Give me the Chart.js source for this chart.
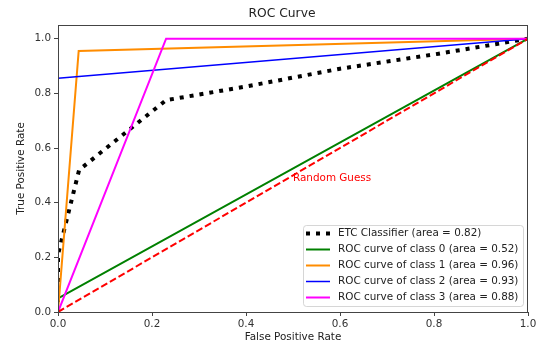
<!DOCTYPE html>
<html>
<head>
<meta charset="utf-8">
<script src="https://cdn.jsdelivr.net/npm/chart.js@4/dist/chart.umd.min.js"></script>
<style>
  html, body { margin: 0; padding: 0; background: #fff; }
  #wrap { width: 544px; height: 350px; }
</style>
</head>
<body>
<div id="wrap"><canvas id="roc"></canvas></div>
<script>
// curve values
const etcFpr = [0, 0, 0.045, 0.23, 0.4, 0.6, 0.81, 1]
const etcTpr = [0, 0.21, 0.52, 0.775, 0.825, 0.89, 0.945, 1]
const class0Fpr = [0, 0, 1]
const class0Tpr = [0, 0.05, 1]
const class1Fpr = [0, 0.044, 1]
const class1Tpr = [0, 0.955, 1]
const class2Fpr = [0, 0, 1]
const class2Tpr = [0, 0.855, 1]
const class3Fpr = [0, 0.23, 1]
const class3Tpr = [0, 1, 1]
const guessFpr = [0, 1]
const guessTpr = [0, 1]
const labels = [
  'ETC Classifier (area = 0.82)',
  'ROC curve of class 0 (area = 0.52)',
  'ROC curve of class 1 (area = 0.96)',
  'ROC curve of class 2 (area = 0.93)',
  'ROC curve of class 3 (area = 0.88)'
]
const xTicks = [0, 0.2, 0.4, 0.6, 0.8, 1.0]
const yTicks = [0, 0.2, 0.4, 0.6, 0.8, 1.0]

const FONT = 'DejaVu Sans'
const pts = (xs, ys) => xs.map((x, i) => ({x: x, y: ys[i]}))

// title, frame, legend box and the "Random Guess" note
const extras = {
  id: 'extras',
  afterDatasetsDraw(chart) {
    const ctx = chart.ctx
    const a = chart.chartArea
    const xs = chart.scales.x, ys = chart.scales.y
    ctx.save()
    ctx.fillStyle = 'red'
    ctx.font = '10.4px "' + FONT + '"'
    ctx.textAlign = 'left'
    ctx.textBaseline = 'middle'
    ctx.fillText('Random Guess', xs.getPixelForValue(0.5), ys.getPixelForValue(0.49))

    // frame
    ctx.strokeStyle = '#444'
    ctx.lineWidth = 1
    ctx.strokeRect(a.left + 0.5, a.top + 0.5, a.right - a.left - 1, a.bottom - a.top)

    // title
    ctx.fillStyle = '#222'
    ctx.font = '12.3px "' + FONT + '"'
    ctx.textAlign = 'center'
    ctx.fillText('ROC Curve', 282, 14)

    // legend
    const w = 220, h = 81
    const bx = a.right - 5 - w, by = a.bottom - 6 - h
    ctx.globalAlpha = 0.8
    ctx.fillStyle = '#fff'
    ctx.strokeStyle = '#ccc'
    ctx.beginPath()
    ctx.roundRect(bx + 0.5, by + 0.5, w, h, 3)
    ctx.fill()
    ctx.stroke()
    ctx.globalAlpha = 1
    ctx.font = '10.4px "' + FONT + '"'
    ctx.textAlign = 'left'
    const legendSets = chart.data.datasets.filter(d => d.inLegend)
    legendSets.forEach((d, i) => {
      const cy = by + 8.5 + i * 16
      ctx.strokeStyle = d.borderColor
      ctx.lineWidth = d.borderWidth
      ctx.setLineDash(d.borderDash || [])
      ctx.beginPath()
      ctx.moveTo(bx + 3, cy)
      ctx.lineTo(bx + 27, cy)
      ctx.stroke()
      ctx.setLineDash([])
      ctx.fillStyle = '#222'
      ctx.fillText(d.label, bx + 35, cy)
    })
    ctx.restore()
  }
}

const rocChart = new Chart(
  document.getElementById('roc'),
  {
    type: 'line',
    data: {
      datasets: [
        {
          label: labels[0],
          data: pts(etcFpr, etcTpr),
          borderColor: '#000',
          borderWidth: 4,
          borderDash: [4, 6],
          borderCapStyle: 'butt',
          order: 5,
          inLegend: true
        },
        {
          label: labels[1],
          data: pts(class0Fpr, class0Tpr),
          borderColor: 'green',
          borderWidth: 2,
          order: 4,
          inLegend: true
        },
        {
          label: labels[2],
          data: pts(class1Fpr, class1Tpr),
          borderColor: 'darkorange',
          borderWidth: 2,
          order: 3,
          inLegend: true
        },
        {
          label: labels[3],
          data: pts(class2Fpr, class2Tpr),
          borderColor: 'blue',
          borderWidth: 1.5,
          order: 2,
          inLegend: true
        },
        {
          label: labels[4],
          data: pts(class3Fpr, class3Tpr),
          borderColor: 'magenta',
          borderWidth: 2,
          order: 1,
          inLegend: true
        },
        {
          label: 'Random Guess',
          data: pts(guessFpr, guessTpr),
          borderColor: 'red',
          borderWidth: 2,
          borderDash: [7, 3],
          order: 0,
          inLegend: false
        }
      ]
    },
    options: {
      responsive: true,
      maintainAspectRatio: false,
      animation: false,
      devicePixelRatio: 1,
      layout: {
        padding: {top: 25, right: 16, left: 0, bottom: 0}
      },
      elements: {
        point: {radius: 0},
        line: {tension: 0}
      },
      plugins: {
        legend: {display: false},
        title: {display: false},
        tooltip: {enabled: false}
      },
      scales: {
        x: {
          type: 'linear',
          min: 0,
          max: 1,
          afterFit: s => { s.height = 38 },
          afterBuildTicks: s => { s.ticks = xTicks.map(v => ({value: v})) },
          grid: {
            drawOnChartArea: false,
            tickLength: 4,
            color: '#444'
          },
          border: {color: '#444'},
          ticks: {
            padding: 2,
            color: '#333',
            maxRotation: 0,
            font: {family: FONT, size: 10.4},
            callback: v => v.toFixed(1)
          },
          title: {
            display: true,
            text: 'False Positive Rate',
            color: '#222',
            padding: {top: 0, bottom: 6},
            font: {family: FONT, size: 10.4}
          }
        },
        y: {
          type: 'linear',
          min: 0,
          max: 1.05,
          afterFit: s => { s.width = 58 },
          afterBuildTicks: s => { s.ticks = yTicks.map(v => ({value: v})) },
          grid: {
            drawOnChartArea: false,
            tickLength: 4,
            color: '#444'
          },
          border: {color: '#444'},
          ticks: {
            padding: 3,
            color: '#333',
            font: {family: FONT, size: 10.4},
            callback: v => v.toFixed(1)
          },
          title: {
            display: true,
            text: 'True Positive Rate',
            color: '#222',
            padding: {top: 15, bottom: 0},
            font: {family: FONT, size: 10.4}
          }
        }
      }
    },
    plugins: [extras]
  }
);
</script>
</body>
</html>
